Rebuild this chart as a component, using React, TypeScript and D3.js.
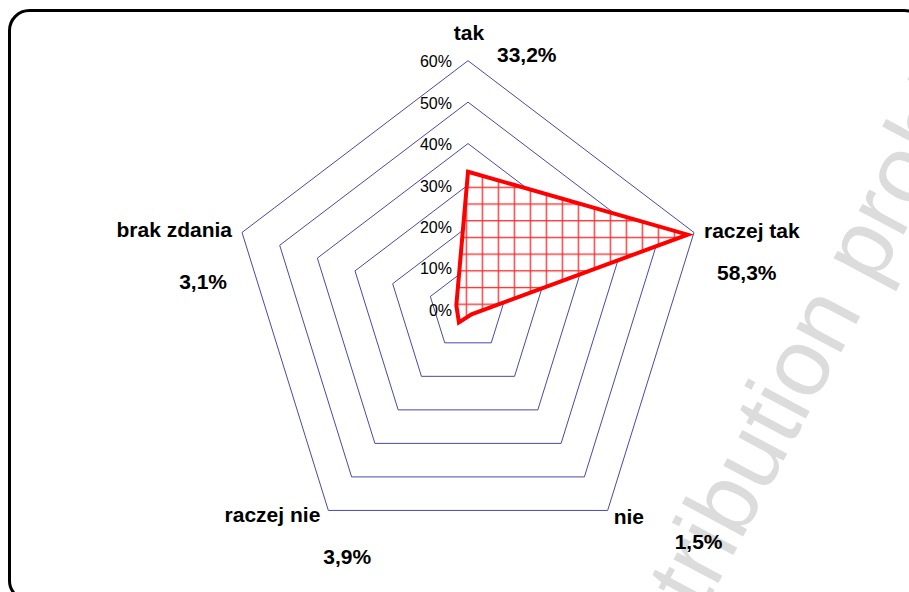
import React from "react";
import * as d3 from "d3";

const categories = ["tak", "raczej tak", "nie", "raczej nie", "brak zdania"];
const values = [33.2, 58.3, 1.5, 3.9, 3.1];
const valueLabels = ["33,2%", "58,3%", "1,5%", "3,9%", "3,1%"];
const ticks = [0, 10, 20, 30, 40, 50, 60];
const tickLabels = ["0%", "10%", "20%", "30%", "40%", "50%", "60%"];

const W = 909;
const H = 592;
const cx = 468;
const cy = 309.3;
const Rx = 237.6;
const Ry = 248.6;

// label layout: [name dx, name dy, name anchor, value dx, value dy, value anchor] relative to outer vertex
const labelLayout: [number, number, string, number, number, string][] = [
  [1, -21, "middle", 29, 1, "start"],
  [10, 6, "start", 23, 48, "start"],
  [6, 14, "start", 67, 39, "start"],
  [-8, 12, "end", -5, 54, "start"],
  [-10, 5, "end", -15, 57, "end"],
];

export default function App() {
  const r = d3.scaleLinear().domain([0, 60]).range([0, 1]);
  const angle = (i: number) => (i * 2 * Math.PI) / categories.length;
  const pt = (i: number, v: number): [number, number] => [
    cx + r(v) * Rx * Math.sin(angle(i)),
    cy - r(v) * Ry * Math.cos(angle(i)),
  ];
  const line = d3.line<[number, number]>().curve(d3.curveLinearClosed);
  const outer = categories.map((_, i) => pt(i, 60));

  return (
    <svg
      width={W}
      height={H}
      style={{ position: "absolute", left: 0, top: 0, background: "#fff" }}
      fontFamily="'Liberation Sans', Arial, sans-serif"
    >
      <defs>
        <pattern id="grid" patternUnits="userSpaceOnUse" x={1.7} y={3} width={16} height={16.7}>
          <rect width={16} height={16.7} fill="#fff" />
          <line x1={0} y1={0} x2={16} y2={0} stroke="#ff2a2a" strokeWidth={2.6} />
          <line x1={0} y1={0} x2={0} y2={16.7} stroke="#ff2a2a" strokeWidth={2.6} />
        </pattern>
      </defs>
      <rect x={0} y={0} width={W} height={H} fill="#fff" />
      {/* watermark */}
      <text
        transform="translate(645,721) rotate(-62)"
        fontSize={96}
        fill="#dcdcdc"
      >
        distribution prohibited
      </text>
      {/* rounded border */}
      <rect x={9.5} y={10.5} width={915} height={590} rx={20} fill="none" stroke="#000" strokeWidth={3} />
      {/* rings */}
      {ticks.slice(1).map((t) => (
        <path
          key={t}
          d={line(categories.map((_, i) => pt(i, t))) || ""}
          fill="none"
          stroke="#3333a0"
          strokeWidth={0.9}
        />
      ))}
      {/* series */}
      <path
        d={line(values.map((v, i) => pt(i, v))) || ""}
        fill="url(#grid)"
        stroke="#ff0000"
        strokeWidth={4}
        strokeLinejoin="miter"
      />
      {/* tick labels */}
      {ticks.map((t, k) => {
        const [, y] = pt(0, t);
        return (
          <text key={t} x={452} y={y + 6.5} fontSize={16} textAnchor="end" fill="#000">
            {tickLabels[k]}
          </text>
        );
      })}
      {/* category labels */}
      {categories.map((c, i) => {
        const [x, y] = outer[i];
        const L = labelLayout[i];
        return (
          <g key={c} fontWeight="bold" fontSize={21} fill="#000">
            <text x={x + L[0]} y={y + L[1]} textAnchor={L[2] as any}>
              {c}
            </text>
            <text x={x + L[3]} y={y + L[4]} textAnchor={L[5] as any}>
              {valueLabels[i]}
            </text>
          </g>
        );
      })}
    </svg>
  );
}
